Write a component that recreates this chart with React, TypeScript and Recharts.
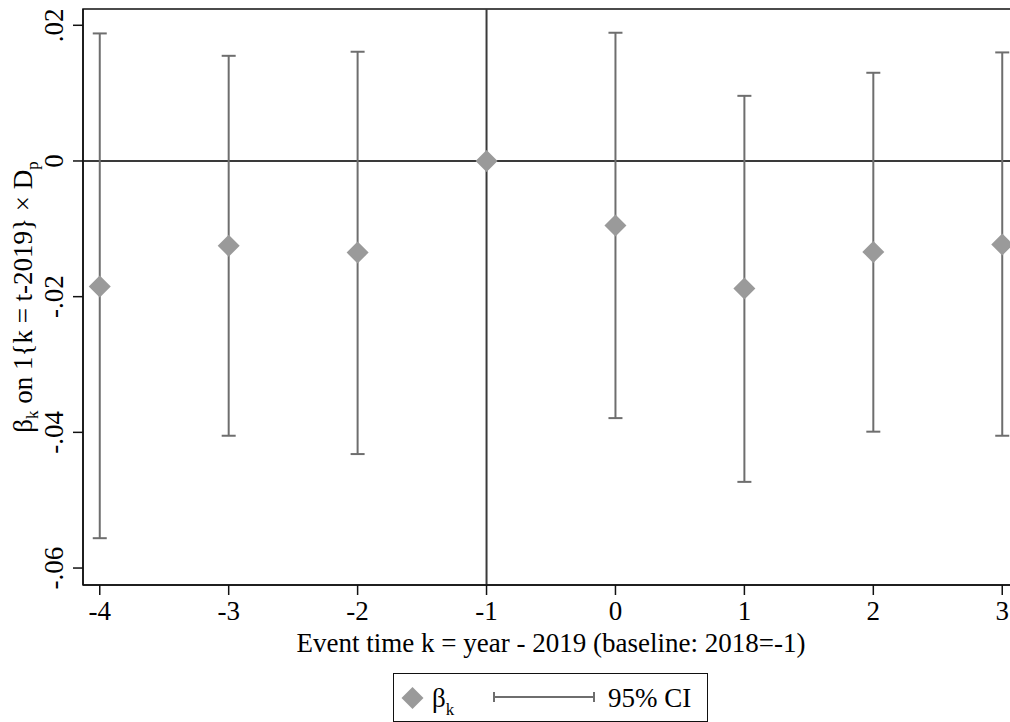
import { ScatterChart, Scatter, XAxis, YAxis, ErrorBar, ReferenceLine, ReferenceArea, Label } from 'recharts';

// event time k = year - 2019, baseline 2018 = -1
const eventTime = [-4, -3, -2, -1, 0, 1, 2, 3];
const beta = [-0.0185, -0.0125, -0.0135, 0, -0.0095, -0.0188, -0.0134, -0.0123];
const ciLow = [-0.0556, -0.0405, -0.0432, 0, -0.0379, -0.0473, -0.0399, -0.0405];
const ciHigh = [0.0188, 0.0155, 0.0161, 0, 0.0189, 0.0096, 0.0130, 0.0160];

const xTicks = [-4, -3, -2, -1, 0, 1, 2, 3];
const yTicks = [-0.06, -0.04, -0.02, 0, 0.02];

const X_DOMAIN: [number, number] = [-4.13, 3.13];
const Y_DOMAIN: [number, number] = [-0.0625, 0.0224];

const FONT = '"Liberation Serif", "Times New Roman", serif';
const FS = 27;
const CI_COLOR = '#6e6e6e';
const DOT_COLOR = '#9a9a9a';
const LINE_COLOR = '#3a3a3a';

const rows = eventTime.map((k, i) => ({
  k,
  beta: beta[i],
  err: [beta[i] - ciLow[i], ciHigh[i] - beta[i]],
}));

const fmtY = (v: number) => {
  if (v === 0) return '0';
  const s = v.toFixed(2);
  return s.replace('0.', '.');
};

const Diamond = (props: any) => {
  const { cx, cy } = props;
  const r = 11;
  return <polygon points={`${cx},${cy - r} ${cx + r},${cy} ${cx},${cy + r} ${cx - r},${cy}`} fill={DOT_COLOR} />;
};

const XTick = ({ x, y, payload }: any) => (
  <text x={x} y={y} dy={23} textAnchor="middle" fontFamily={FONT} fontSize={FS} fill="#000">
    {payload.value}
  </text>
);

const YTick = ({ x, y, payload }: any) => {
  const bx = x - 8;
  return (
    <text x={bx} y={y} textAnchor="middle" transform={`rotate(-90, ${bx}, ${y})`} fontFamily={FONT} fontSize={FS} fill="#000">
      {fmtY(payload.value)}
    </text>
  );
};

const XTitle = ({ viewBox }: any) => (
  <text x={viewBox.x + viewBox.width / 2} y={652} textAnchor="middle" fontFamily={FONT} fontSize={FS} fill="#000">
    Event time k = year - 2019 (baseline: 2018=-1)
  </text>
);

const YTitle = ({ viewBox }: any) => {
  const bx = 32;
  const cy = viewBox.y + viewBox.height / 2;
  return (
    <text x={bx} y={cy} textAnchor="middle" transform={`rotate(-90, ${bx}, ${cy})`} fontFamily={FONT} fontSize={FS} fill="#000">
      <tspan>β</tspan>
      <tspan fontSize={17} dy={6}>k</tspan>
      <tspan dy={-6}> on 1{'{'}k = t-2019{'}'} × D</tspan>
      <tspan fontSize={17} dy={6}>p</tspan>
    </text>
  );
};

export default function App() {
  return (
    <div style={{ position: 'absolute', left: 0, top: 0, width: 1010, height: 722, overflow: 'hidden', background: '#fff' }}>
      <ScatterChart width={1020} height={722} margin={{ top: 9, right: 1, left: 0, bottom: 0 }}>
        <ReferenceArea
          x1={X_DOMAIN[0]}
          x2={X_DOMAIN[1]}
          y1={Y_DOMAIN[0]}
          y2={Y_DOMAIN[1]}
          fill="none"
          fillOpacity={0}
          stroke="#111"
          strokeWidth={1.5}
        />
        <XAxis
          type="number"
          dataKey="k"
          domain={X_DOMAIN}
          ticks={xTicks}
          allowDataOverflow
          height={137}
          tickSize={10}
          tick={<XTick />}
          tickLine={{ stroke: '#111', strokeWidth: 1.5 }}
          axisLine={{ stroke: '#111', strokeWidth: 1.5 }}
        >
          <Label content={<XTitle />} />
        </XAxis>
        <YAxis
          type="number"
          dataKey="beta"
          domain={Y_DOMAIN}
          ticks={yTicks}
          allowDataOverflow
          width={83}
          tickSize={10}
          tick={<YTick />}
          tickLine={{ stroke: '#111', strokeWidth: 1.5 }}
          axisLine={{ stroke: '#111', strokeWidth: 1.5 }}
        >
          <Label content={<YTitle />} />
        </YAxis>
        <ReferenceLine y={0} stroke={LINE_COLOR} strokeWidth={2} />
        <ReferenceLine x={-1} stroke={LINE_COLOR} strokeWidth={2} />
        <Scatter data={rows} shape={<Diamond />} isAnimationActive={false}>
          <ErrorBar dataKey="err" direction="y" width={7} stroke={CI_COLOR} strokeWidth={2} isAnimationActive={false} />
        </Scatter>
      </ScatterChart>
      <div
        style={{
          position: 'absolute',
          left: 393,
          top: 673,
          width: 313,
          height: 47,
          border: '1.5px solid #111',
        }}
      >
        <svg width={313} height={47} style={{ position: 'absolute', left: 0, top: 0 }}>
          <polygon points="18.5,13 29.5,24 18.5,35 7.5,24" fill={DOT_COLOR} />
          <text x={38} y={33} fontFamily={FONT} fontSize={FS} fill="#000">
            <tspan>β</tspan>
            <tspan fontSize={17} dy={8}>k</tspan>
          </text>
          <line x1={100} y1={23} x2={200} y2={23} stroke={CI_COLOR} strokeWidth={2} />
          <line x1={100} y1={18} x2={100} y2={28} stroke={CI_COLOR} strokeWidth={2} />
          <line x1={200} y1={18} x2={200} y2={28} stroke={CI_COLOR} strokeWidth={2} />
          <text x={214} y={33} fontFamily={FONT} fontSize={FS} fill="#000">95% CI</text>
        </svg>
      </div>
    </div>
  );
}
